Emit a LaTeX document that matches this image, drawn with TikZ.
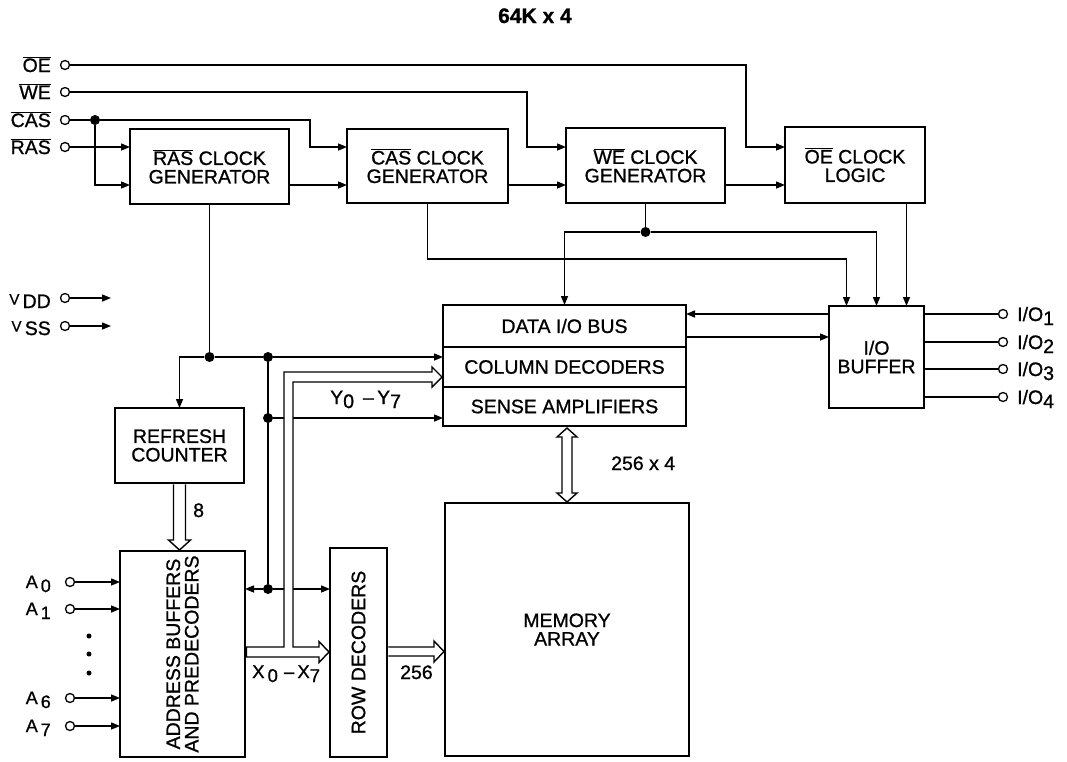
\documentclass[tikz,border=0pt]{standalone}
\usepackage{fontspec}
\setmainfont{Liberation Sans}[FakeBold=0.9]
\usetikzlibrary{arrows.meta,calc}
\newcommand\ovl[1]{\ensuremath{\overline{\mbox{#1}}}}
\newcommand\lo[1]{\raisebox{-4pt}{#1}}
\begin{document}
\begin{tikzpicture}[x=1pt,y=-1pt,
  every node/.style={font=\fontsize{19.5}{18.5}\selectfont},
  box/.style={draw, line width=2.5pt, inner sep=0pt, outer sep=0pt, align=center},
  wire/.style={line width=1.4pt},
  arr/.style={wire, -{Triangle[length=9pt,width=7pt]}},
  pinc/.style={circle, draw, line width=1.3pt, minimum size=9pt, inner sep=0pt, fill=white},
  dot/.style={circle, fill, minimum size=10pt, inner sep=0pt},
  sdot/.style={circle, fill, minimum size=5pt, inner sep=0pt},
  bus/.style={line width=1.4pt, fill=white, line join=miter},
  lbl/.style={inner sep=0pt},
  albl/.style={inner sep=0pt, anchor=base east, font=\fontsize{18}{18}\selectfont}
]
\useasboundingbox (0,0) rectangle (1067,761);

% title
\node[font=\bfseries\fontsize{21}{21}\selectfont, anchor=base] (title) at (535,23) {64K x 4};

% boxes
\node[box, minimum width=159pt, minimum height=75pt] (ras) at (209.5,166.5) {\ovl{RAS} CLOCK\\GENERATOR};
\node[box, minimum width=161pt, minimum height=74pt] (cas) at (427.5,166) {\ovl{CAS} CLOCK\\GENERATOR};
\node[box, minimum width=159pt, minimum height=75pt] (we) at (645.5,165.5) {\ovl{WE} CLOCK\\GENERATOR};
\node[box, minimum width=140pt, minimum height=76pt] (oe) at (855,165) {\ovl{OE} CLOCK\\LOGIC};
\node[box, minimum width=243pt, minimum height=42pt] (dbus) at (564.5,326) {DATA I/O BUS};
\node[box, minimum width=243pt, minimum height=40pt] (coldec) at (564.5,367) {COLUMN DECODERS};
\node[box, minimum width=243pt, minimum height=39pt] (sense) at (564.5,406.5) {SENSE AMPLIFIERS};
\node[box, minimum width=95pt, minimum height=102pt] (iobuf) at (876.5,357) {I/O\\BUFFER};
\node[box, minimum width=129pt, minimum height=75pt] (refresh) at (179.5,445.5) {REFRESH\\COUNTER};
\node[box, minimum width=125pt, minimum height=206pt] (addr) at (182.5,654) {};
\node[lbl, rotate=90, align=center] (addrT) at (addr.center) {ADDRESS BUFFERS\\AND PREDECODERS};
\node[box, minimum width=57pt, minimum height=209pt] (rowdec) at (358.5,652.5) {};
\node[lbl, rotate=90] (rowdecT) at (rowdec.center) {ROW DECODERS};
\node[box, minimum width=244pt, minimum height=253pt] (mem) at (567,629.5) {MEMORY\\ARRAY};

% helper rows
\coordinate (r1) at (0,147);
\coordinate (r2) at (0,185);
\coordinate (yC) at (0,259);
\coordinate (y357) at (0,357);
\coordinate (yA) at (0,314);
\coordinate (yB) at (0,337);

% control pins
\node[pinc] (pOE) at (65,65) {};
\node[pinc] (pWE) at (65,92) {};
\node[pinc] (pCAS) at (65,120) {};
\node[pinc] (pRAS) at (65,147) {};
\node[lbl, anchor=base east] (tOE) at (51,72) {\ovl{OE}};
\node[lbl, anchor=base east] (tWE) at (51,99) {\ovl{WE}};
\node[lbl, anchor=base east] (tCAS) at (51,127) {\ovl{CAS}};
\node[lbl, anchor=base east] (tRAS) at (51,154) {\ovl{RAS}};

\draw[arr] (pOE) -| (746,147) -- (oe.west |- r1);
\draw[arr] (pWE) -| (527,147) -- (we.west |- r1);
\node[dot] (jCAS) at (95,120) {};
\draw[wire] (pCAS) -- (jCAS);
\draw[arr] (jCAS) -| (310,147) -- (cas.west |- r1);
\draw[arr] (jCAS) |- (ras.west |- r2);
\draw[arr] (pRAS) -- (ras.west |- pRAS);
\draw[arr] (ras.east |- r2) -- (cas.west |- r2);
\draw[arr] (cas.east |- r2) -- (we.west |- r2);
\draw[arr] (we.east |- r2) -- (oe.west |- r2);

% to I/O buffer
\coordinate (c1) at ($(iobuf.north)+(-30,0)$);
\coordinate (c2) at (iobuf.north);
\coordinate (c3) at ($(iobuf.north)+(30,0)$);
\draw[arr] (oe.south -| c3) -- (c3);
\node[dot] (jWE) at ($(we.south)+(0,29)$) {};
\draw[wire] (we.south) -- (jWE);
\draw[arr] (jWE) -| (dbus.north);
\draw[arr] (jWE) -| (c2);
\draw[arr] (cas.south) -- (cas.south |- yC) -| (c1);

% RAS distribution
\node[dot] (jR) at (ras.south |- y357) {};
\node[dot] (jV) at (268,357) {};
\node[dot] (jV2) at (268,418) {};
\node[dot] (jV3) at (268,589) {};
\draw[wire] (ras.south) -- (jR);
\draw[arr] (jR) -| (refresh.north);
\draw[arr] (jR) -- (jV) -- (coldec.west |- jV);
\draw[wire] (jV) -- (jV3);
\draw[arr] (jV2) -- (sense.west |- jV2);
\draw[arr] (jV3) -- (addr.east |- jV3);
\draw[arr] (jV3) -- (rowdec.west |- jV3);

% buses
\draw[bus] (246.3,647) -- (284,647) -- (284,372) -- (432,372) -- (432,367) -- (442,377) -- (432,387) -- (432,382) -- (293,382) -- (293,647) -- (319,647) -- (319,641.5) -- (329,652) -- (319,662.5) -- (319,657) -- (246.3,657) -- cycle;
\draw[bus] (173.5,484.3) -- (173.5,540) -- (168.5,540) -- (179.5,550) -- (190.5,540) -- (185.5,540) -- (185.5,484.3);
\draw[bus] (388.3,647) -- (434,647) -- (434,641) -- (444,651.5) -- (434,662) -- (434,656) -- (388.3,656);
\draw[bus] (562,437) -- (557,437) -- (567,428) -- (577,437) -- (572,437) -- (572,493) -- (577,493) -- (567,502) -- (557,493) -- (562,493) -- cycle;

% bus labels
\node[lbl, anchor=base west] (tY) at (330,404) {Y\lo{0}\hspace{9pt}–\,Y\lo{7}};
\node[lbl, anchor=base west, font=\fontsize{18.5}{18}\selectfont] (tX) at (252,678) {X\,\lo{0}\,\,–\,X\lo{7}};
\node[lbl, anchor=base west] (t8) at (193,517) {8};
\node[lbl, anchor=base west] (t256) at (400,679) {256};
\node[lbl, anchor=base west] (t2564) at (611,470) {256 x 4};

% data bus <-> I/O buffer
\draw[arr] (iobuf.west |- yA) -- (dbus.east |- yA);
\draw[arr] (dbus.east |- yB) -- (iobuf.west |- yB);

% I/O pins
\foreach \i/\yy in {1/314,2/342,3/369,4/397}{
  \node[pinc] (pIO\i) at (1003,\yy) {};
  \draw[wire] (iobuf.east |- pIO\i) -- (pIO\i);
  \node[lbl, anchor=base west] (tIO\i) at (1017,\yy+7) {I/O\lo{\i}};
}

% power pins
\node[pinc] (pVDD) at (65,298) {};
\node[pinc] (pVSS) at (65,326) {};
\coordinate (eVDD) at (111,298);
\coordinate (eVSS) at (111,326);
\draw[arr] (pVDD) -- (eVDD);
\draw[arr] (pVSS) -- (eVSS);
\node[lbl, anchor=base east] (tVDD) at (51,308) {\raisebox{3.5pt}{\fontsize{15}{15}\selectfont V}\,DD};
\node[lbl, anchor=base east] (tVSS) at (51,335) {\raisebox{3.5pt}{\fontsize{15}{15}\selectfont V}\,SS};

% address pins
\foreach \n/\yy in {0/582,1/609,6/698,7/726}{
  \node[pinc] (pA\n) at (70,\yy) {};
  \draw[arr] (pA\n) -- (addr.west |- pA\n);
  \node[albl] (tA\n) at (51,\yy+6) {A\,\lo{\n}};
}
\node[sdot] (d1) at (89,636) {};
\node[sdot] (d2) at (89,654) {};
\node[sdot] (d3) at (89,673) {};
\end{tikzpicture}
\end{document}
